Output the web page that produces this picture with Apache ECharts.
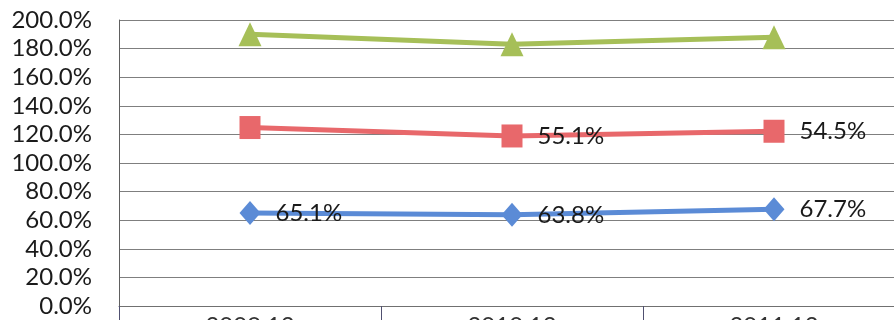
<!DOCTYPE html>
<html>
<head>
<meta charset="utf-8">
<script src="https://cdn.jsdelivr.net/npm/echarts@6/dist/echarts.min.js"></script>
<style>
  html, body { margin: 0; padding: 0; background: #fff; }
  #chart { width: 894px; height: 320px; }
</style>
</head>
<body>
<div id="chart"></div>
<script>
// Period labels on the category axis
const periods = ['2009.12', '2010.12', '2011.12'];

// Stacked ratio components (percent)
const blueValues = [65.1, 63.8, 67.7];
const redValues = [59.7, 55.1, 54.5];
const greenValues = [65.2, 64.1, 65.8];

// Which points carry a value label
const blueLabelShown = [true, true, true];
const redLabelShown = [false, true, true];

const FONT = 'Lato';

function withLabels(values, shown) {
  return values.map((v, i) => ({ value: v, label: { show: shown[i] } }));
}

const labelStyle = {
  position: 'right',
  distance: 15,
  fontFamily: FONT,
  fontSize: 24,
  color: '#1a1a1a',
  formatter: p => p.value.toFixed(1) + '%'
};

const chart = echarts.init(document.getElementById('chart'), null, { renderer: 'canvas' });
chart.setOption({
  backgroundColor: '#ffffff',
  animation: false,
  grid: {
    left: 119, right: -11, top: 20, bottom: 14,
    containLabel: false,
    outerBoundsMode: 'none'
  },
  xAxis: {
    type: 'category',
    data: periods,
    boundaryGap: true,
    axisLine: { show: true, lineStyle: { color: '#707070', width: 1 } },
    axisTick: { show: true, interval: 0, length: 16, lineStyle: { color: '#505070', width: 1 } },
    axisLabel: { margin: 8, fontFamily: FONT, fontSize: 24, color: '#333' },
    splitLine: { show: false }
  },
  yAxis: {
    type: 'value',
    min: 0,
    max: 200,
    interval: 20,
    axisLine: { show: true, lineStyle: { color: '#606060', width: 1 } },
    axisTick: { show: false },
    axisLabel: {
      margin: 27,
      fontFamily: FONT,
      fontSize: 24,
      color: '#1a1a1a',
      formatter: v => v.toFixed(1) + '%'
    },
    splitLine: { show: true, lineStyle: { color: '#7f7f7f', width: 1 } }
  },
  series: [
    {
      name: 'blue',
      type: 'line',
      stack: 'total',
      data: withLabels(blueValues, blueLabelShown),
      symbol: 'diamond',
      symbolSize: [21, 24],
      lineStyle: { color: '#5b8bd6', width: 5 },
      itemStyle: { color: '#5b8bd6' },
      label: labelStyle,
      z: 3
    },
    {
      name: 'red',
      type: 'line',
      stack: 'total',
      data: withLabels(redValues, redLabelShown),
      symbol: 'rect',
      symbolSize: [21, 23],
      lineStyle: { color: '#e8686b', width: 5 },
      itemStyle: { color: '#e8686b' },
      label: labelStyle,
      z: 3
    },
    {
      name: 'green',
      type: 'line',
      stack: 'total',
      data: greenValues,
      symbol: 'triangle',
      symbolSize: [23, 24],
      lineStyle: { color: '#a6bf58', width: 5 },
      itemStyle: { color: '#a6bf58' },
      label: { show: false },
      z: 3
    }
  ]
});
</script>
</body>
</html>
